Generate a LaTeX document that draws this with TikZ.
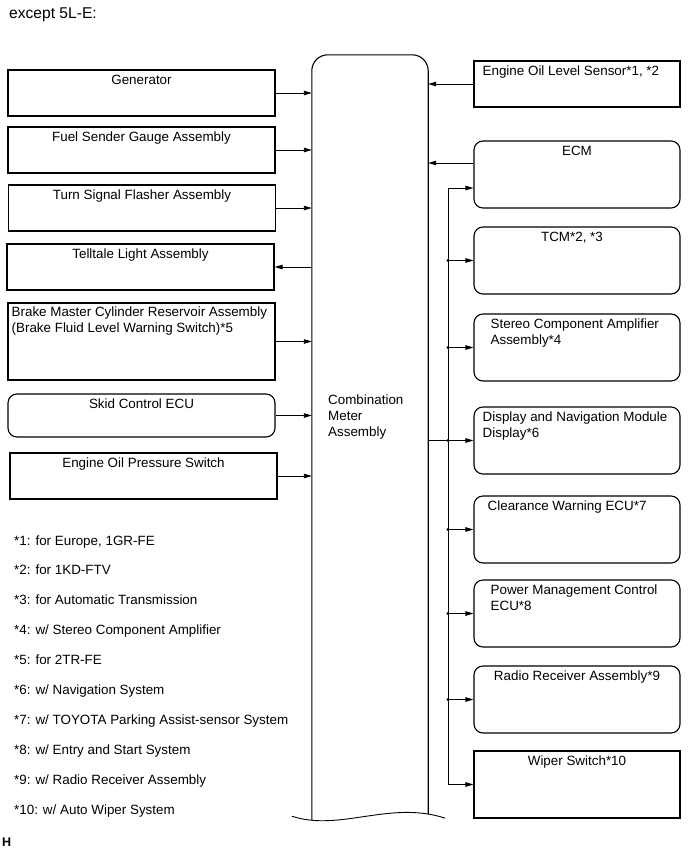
\documentclass[tikz,border=0pt]{standalone}
\usepackage{fontspec}
\setmainfont{Liberation Sans}
\usetikzlibrary{
    arrows.meta,
    positioning
}

\begin{document}
\begin{tikzpicture}[
x=1pt, y=-1pt,
font=\fontsize{13.4}{15.8}\selectfont,
blk/.style={
draw,
line width=1.1pt,
minimum height=46pt,
inner sep=0pt
},
lblk/.style={blk, minimum width=267pt},
rblk/.style={blk, minimum width=206pt, minimum height=67pt},
rnd/.style={rounded corners=9pt},
ttl/.style={inner sep=0pt, anchor=north},
ttlw/.style={inner sep=0pt, anchor=north west, align=left},
arr/.style={-{Triangle[length=8pt,width=4.5pt]}, line width=0.9pt},
note/.style={inner sep=0pt, anchor=base west}
]

\useasboundingbox (0,0) rectangle (691,855);

\node[note, font=\fontsize{15.6}{18}\selectfont] (head) at (9,18.3) {except 5L-E:};

\node[minimum width=116pt, minimum height=762pt, inner sep=0pt] (cma) at (370,436) {};
\draw[line width=1.1pt, rounded corners=16pt]
([yshift=-3pt]cma.south west) -- (cma.north west) -- (cma.north east) -- ([yshift=3pt]cma.south east);
\draw[line width=0.9pt]
([xshift=-20pt,yshift=1pt]cma.south west) .. controls (340,832) and (390,800) .. ([xshift=17pt,yshift=-1pt]cma.south east);
\node[ttlw] (cmatxt) at (328,395) {Combination\\Meter\\Assembly};

\node[lblk] (gen) at (141.5,93) {};
\node[ttl] (gentxt) at ([yshift=-5pt]gen.north) {Generator};

\node[lblk] (fuel) at (141.5,150) {};
\node[ttl] (fueltxt) at ([yshift=-5pt]fuel.north) {Fuel Sender Gauge Assembly};

\node[lblk] (turn) at (142,208) {};
\node[ttl] (turntxt) at ([yshift=-5pt]turn.north) {Turn Signal Flasher Assembly};

\node[lblk] (tell) at (140.5,267) {};
\node[ttl] (telltxt) at ([yshift=-5pt]tell.north) {Telltale Light Assembly};

\node[lblk, minimum height=77pt] (brake) at (141.5,341.5) {};
\node[ttlw] (braketxt) at ([xshift=4pt,yshift=-4.5pt]brake.north west)
{Brake Master Cylinder Reservoir Assembly\\(Brake Fluid Level Warning Switch)*5};

\node[lblk, rnd, minimum height=43pt] (skid) at (141.5,415.5) {};
\node[ttl] (skidtxt) at ([yshift=-5pt]skid.north) {Skid Control ECU};

\node[lblk] (oilp) at (143.5,476) {};
\node[ttl] (oilptxt) at ([yshift=-5pt]oilp.north) {Engine Oil Pressure Switch};

\foreach \n in {gen,fuel,turn,brake,skid,oilp}
\draw[arr] (\n.east) -- (\n.east -| cma.west);
\draw[arr] (tell.east -| cma.west) -- (tell.east);

\node[rblk, minimum height=46pt] (eols) at (577,84) {};
\node[ttlw] (eolstxt) at ([xshift=9pt,yshift=-5pt]eols.north west) {Engine Oil Level Sensor*1, *2};

\node[rblk, rnd] (ecm) at (577,174.5) {};
\node[ttl] (ecmtxt) at ([yshift=-5pt]ecm.north) {ECM};

\node[rblk, rnd] (tcm) at (577,260.5) {};
\node[ttl] (tcmtxt) at ([xshift=-5pt,yshift=-5pt]tcm.north) {TCM*2, *3};

\node[rblk, rnd] (amp) at (577,347.5) {};
\node[ttlw] (amptxt) at ([xshift=17pt,yshift=-5pt]amp.north west)
{Stereo Component Amplifier\\Assembly*4};

\node[rblk, rnd] (disp) at (577,440.5) {};
\node[ttlw] (disptxt) at ([xshift=9pt,yshift=-5pt]disp.north west)
{Display and Navigation Module\\Display*6};

\node[rblk, rnd] (clr) at (577,529.5) {};
\node[ttlw] (clrtxt) at ([xshift=14pt,yshift=-5pt]clr.north west) {Clearance Warning ECU*7};

\node[rblk, rnd] (pwr) at (577,613.5) {};
\node[ttlw] (pwrtxt) at ([xshift=17pt,yshift=-5pt]pwr.north west)
{Power Management Control\\ECU*8};

\node[rblk, rnd] (radio) at (577,699.5) {};
\node[ttl] (radiotxt) at ([yshift=-5pt]radio.north) {Radio Receiver Assembly*9};

\node[rblk] (wiper) at (577,784.5) {};
\node[ttl] (wipertxt) at ([yshift=-5pt]wiper.north) {Wiper Switch*10};

\coordinate (ecmout) at ([yshift=11.5pt]ecm.west);
\coordinate (bus) at (448,188);

\draw[arr] (eols.west) -- (eols.west -| cma.east);
\draw[arr] (ecmout) -- (ecmout -| cma.east);
\draw[arr] (bus) -- (bus -| ecm.west);
\draw[arr] (bus) |- (wiper.west);
\draw[line width=0.9pt] (disp -| cma.east) -- (disp -| bus);
\foreach \n in {tcm,amp,disp,clr,pwr,radio}{
\draw[arr] (\n -| bus) -- (\n.west);
\fill (\n -| bus) circle (1.6pt);
}

\foreach \t [count=\i] in {
{*1: for Europe, 1GR-FE},
{*2: for 1KD-FTV},
{*3: for Automatic Transmission},
{*4: w/ Stereo Component Amplifier},
{*5: for 2TR-FE},
{*6: w/ Navigation System},
{*7: w/ TOYOTA Parking Assist-sensor System},
{*8: w/ Entry and Start System},
{*9: w/ Radio Receiver Assembly},
{*10: w/ Auto Wiper System}}
\node[note] (fn\i) at (14,{545+29.9*(\i-1)}) {\t};

\node[note, font=\fontsize{12.5}{15}\selectfont\bfseries] (hmark) at (2,846) {H};

\end{tikzpicture}
\end{document}
